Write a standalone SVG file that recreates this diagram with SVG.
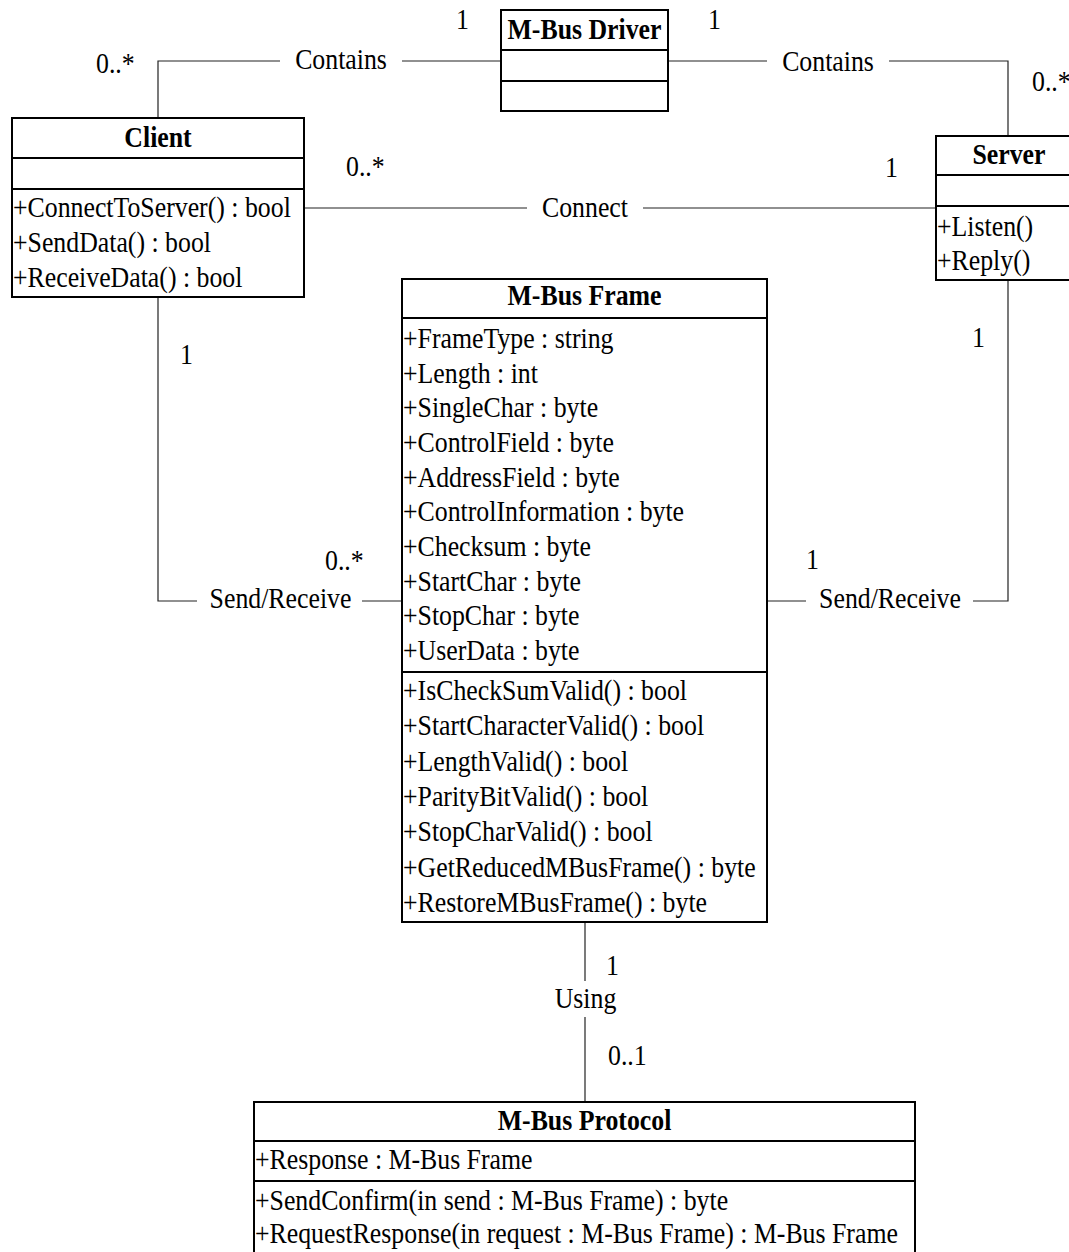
<svg xmlns="http://www.w3.org/2000/svg" width="1069" height="1252" viewBox="0 0 1069 1252">
  <style>
    text { font-family: "Liberation Serif", "Times New Roman", serif; font-size: 29px; fill: #000; }
    .title { font-weight: bold; text-anchor: middle; }
    .mid { text-anchor: middle; }
    .box { fill: #fff; stroke: #000; stroke-width: 2; }
    .sep { stroke: #000; stroke-width: 2; }
    .conn { fill: none; stroke: #222; stroke-width: 1.2; }
  </style>
  <rect width="1069" height="1252" fill="#fff"/>

  <!-- associations; labels use a narrow (0.89) horizontal scale -->
  <g id="connectors">
    <!-- Client - M-Bus Driver : Contains -->
    <path class="conn" d="M158,118 V61 H280"/>
    <path class="conn" d="M402,61 H501"/>
    <text class="mid" transform="translate(341 69) scale(.89 1)">Contains</text>
    <text transform="translate(96 73) scale(.89 1)">0..*</text>
    <text transform="translate(456 29) scale(.89 1)">1</text>

    <!-- M-Bus Driver - Server : Contains -->
    <path class="conn" d="M668,61 H767"/>
    <path class="conn" d="M889,61 H1008 V136"/>
    <text class="mid" transform="translate(828 71) scale(.89 1)">Contains</text>
    <text transform="translate(708 29) scale(.89 1)">1</text>
    <text transform="translate(1032 91) scale(.89 1)">0..*</text>

    <!-- Client - Server : Connect -->
    <path class="conn" d="M304,208 H527"/>
    <path class="conn" d="M643,208 H936"/>
    <text class="mid" transform="translate(585 217) scale(.89 1)">Connect</text>
    <text transform="translate(346 176) scale(.89 1)">0..*</text>
    <text transform="translate(885 177) scale(.89 1)">1</text>

    <!-- Client - M-Bus Frame : Send/Receive -->
    <path class="conn" d="M158,297 V601 H197"/>
    <path class="conn" d="M362,601 H402"/>
    <text class="mid" transform="translate(280.5 608) scale(.89 1)">Send/Receive</text>
    <text transform="translate(180 364) scale(.89 1)">1</text>
    <text transform="translate(325 570) scale(.89 1)">0..*</text>

    <!-- Server - M-Bus Frame : Send/Receive -->
    <path class="conn" d="M1008,280 V601 H973"/>
    <path class="conn" d="M806,601 H767"/>
    <text class="mid" transform="translate(890 608) scale(.89 1)">Send/Receive</text>
    <text transform="translate(972 347) scale(.89 1)">1</text>
    <text transform="translate(806 569) scale(.89 1)">1</text>

    <!-- M-Bus Frame - M-Bus Protocol : Using -->
    <path class="conn" d="M585,922 V981"/>
    <path class="conn" d="M585,1017 V1102"/>
    <text class="mid" transform="translate(585.5 1008) scale(.89 1)">Using</text>
    <text transform="translate(606 975) scale(.89 1)">1</text>
    <text transform="translate(608 1065) scale(.89 1)">0..1</text>
  </g>

  <g id="mbus-driver">
    <rect class="box" x="501" y="10" width="167" height="101"/>
    <line class="sep" x1="501" y1="50" x2="668" y2="50"/>
    <line class="sep" x1="501" y1="81" x2="668" y2="81"/>
    <text class="title" transform="translate(584.5 39) scale(.89 1)">M-Bus Driver</text>
  </g>

  <g id="client">
    <rect class="box" x="12" y="118" width="292" height="179"/>
    <line class="sep" x1="12" y1="158" x2="304" y2="158"/>
    <line class="sep" x1="12" y1="189" x2="304" y2="189"/>
    <text class="title" transform="translate(158 147) scale(.89 1)">Client</text>
    <text transform="translate(13 217) scale(.89 1)">+ConnectToServer() : bool</text>
    <text transform="translate(13 252) scale(.89 1)">+SendData() : bool</text>
    <text transform="translate(13 287) scale(.89 1)">+ReceiveData() : bool</text>
  </g>

  <g id="server">
    <rect class="box" x="936" y="136" width="146" height="144"/>
    <line class="sep" x1="936" y1="175" x2="1082" y2="175"/>
    <line class="sep" x1="936" y1="206" x2="1082" y2="206"/>
    <text class="title" transform="translate(1009 164) scale(.89 1)">Server</text>
    <text transform="translate(937 236) scale(.89 1)">+Listen()</text>
    <text transform="translate(937 270) scale(.89 1)">+Reply()</text>
  </g>

  <g id="mbus-frame">
    <rect class="box" x="402" y="279" width="365" height="643"/>
    <line class="sep" x1="402" y1="318" x2="767" y2="318"/>
    <line class="sep" x1="402" y1="672" x2="767" y2="672"/>
    <text class="title" transform="translate(584.5 305) scale(.89 1)">M-Bus Frame</text>
    <text transform="translate(403 348) scale(.89 1)">+FrameType : string</text>
    <text transform="translate(403 382.7) scale(.89 1)">+Length : int</text>
    <text transform="translate(403 417.3) scale(.89 1)">+SingleChar : byte</text>
    <text transform="translate(403 452) scale(.89 1)">+ControlField : byte</text>
    <text transform="translate(403 486.7) scale(.89 1)">+AddressField : byte</text>
    <text transform="translate(403 521.3) scale(.89 1)">+ControlInformation : byte</text>
    <text transform="translate(403 556) scale(.89 1)">+Checksum : byte</text>
    <text transform="translate(403 590.7) scale(.89 1)">+StartChar : byte</text>
    <text transform="translate(403 625.3) scale(.89 1)">+StopChar : byte</text>
    <text transform="translate(403 660) scale(.89 1)">+UserData : byte</text>
    <text transform="translate(403 700) scale(.89 1)">+IsCheckSumValid() : bool</text>
    <text transform="translate(403 735.3) scale(.89 1)">+StartCharacterValid() : bool</text>
    <text transform="translate(403 770.7) scale(.89 1)">+LengthValid() : bool</text>
    <text transform="translate(403 806) scale(.89 1)">+ParityBitValid() : bool</text>
    <text transform="translate(403 841.3) scale(.89 1)">+StopCharValid() : bool</text>
    <text transform="translate(403 876.7) scale(.89 1)">+GetReducedMBusFrame() : byte</text>
    <text transform="translate(403 912) scale(.89 1)">+RestoreMBusFrame() : byte</text>
  </g>

  <g id="mbus-protocol">
    <rect class="box" x="254" y="1102" width="661" height="170"/>
    <line class="sep" x1="254" y1="1141" x2="915" y2="1141"/>
    <line class="sep" x1="254" y1="1181" x2="915" y2="1181"/>
    <text class="title" transform="translate(584.5 1130) scale(.89 1)">M-Bus Protocol</text>
    <text transform="translate(255 1169) scale(.89 1)">+Response : M-Bus Frame</text>
    <text transform="translate(255 1210) scale(.89 1)">+SendConfirm(in send : M-Bus Frame) : byte</text>
    <text transform="translate(255 1243) scale(.89 1)">+RequestResponse(in request : M-Bus Frame) : M-Bus Frame</text>
  </g>
</svg>
